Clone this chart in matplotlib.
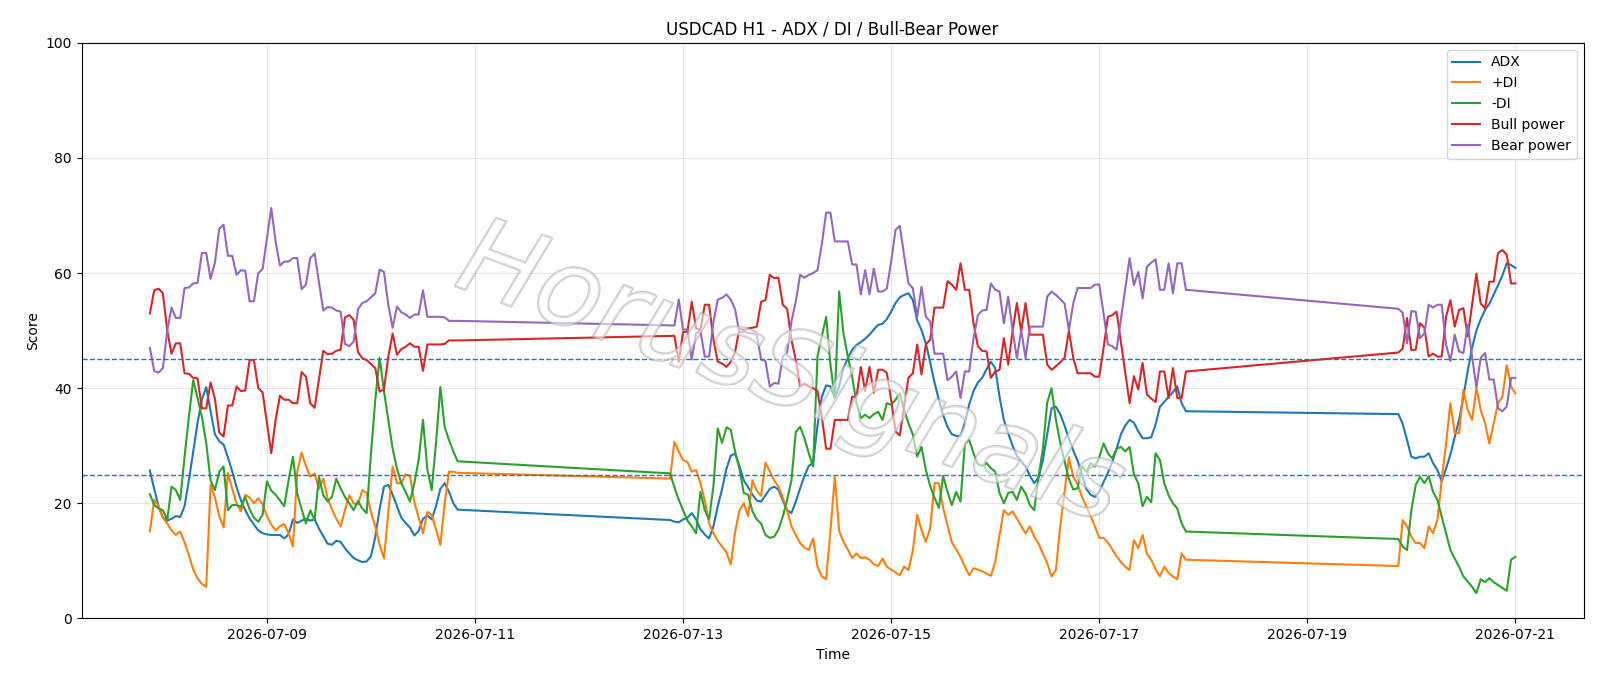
import pandas as pd
import matplotlib
matplotlib.use("Agg")
import matplotlib.pyplot as plt
import matplotlib.patheffects as pe

# H1 bars, three trading blocks (weekend gaps are simply joined by the line)
seg_bounds = [
    ("2026-07-07 21:00", "2026-07-10 20:00"),
    ("2026-07-12 21:00", "2026-07-17 20:00"),
    ("2026-07-19 21:00", "2026-07-21 00:00"),
]

adx = [
    25.7, 22.5, 19.5, 17.5, 17.0, 17.3, 17.8, 17.6, 19.5, 24.0, 29.0, 34.0, 38.0, 40.2, 36.0, 32.0, 30.8, 30.2, 28.0, 25.5, 22.8, 20.5, 18.8, 17.4,
    16.3, 15.3, 14.8, 14.6, 14.5, 14.5, 14.5, 13.9, 14.6, 17.2, 16.6, 17.0, 17.3, 17.0, 17.2, 15.6, 14.3, 13.0, 12.8, 13.5, 13.3, 12.2, 11.3, 10.5,
    10.1, 9.8, 9.9, 10.8, 14.2, 19.0, 22.9, 23.2, 21.5, 19.5, 17.5, 16.6, 15.8, 14.4, 15.2, 17.3, 17.9, 17.2, 19.5, 22.5, 23.5, 22.0, 20.0, 18.9,
    # week 2
    17.1, 16.8, 16.7, 17.2, 17.5, 18.3, 17.2, 15.5, 14.6, 13.9, 16.0, 19.5, 22.5, 26.0, 28.3, 28.6, 26.5, 24.0, 22.8, 21.5, 20.5, 20.3, 21.4, 22.5,
    22.9, 22.4, 20.5, 18.8, 18.3, 20.3, 22.6, 24.8, 26.5, 27.0, 33.5, 38.5, 40.5, 40.3, 38.3, 40.3, 43.5, 45.2, 46.7, 47.5, 48.0, 48.6, 49.3, 50.2,
    51.0, 51.2, 52.0, 53.3, 54.8, 55.8, 56.2, 56.5, 55.3, 51.8, 50.1, 47.8, 44.5, 41.0, 38.0, 35.3, 33.3, 32.0, 31.7, 31.7, 34.0, 37.2, 39.5, 41.0,
    41.8, 43.3, 44.6, 43.5, 38.5, 34.5, 32.2, 30.0, 28.3, 27.3, 26.4, 24.8, 23.5, 24.5, 27.5, 32.0, 36.5, 36.8, 35.5, 33.5, 31.2, 29.2, 27.4, 25.0,
    22.5, 21.5, 21.1, 22.0, 23.7, 25.3, 27.2, 29.5, 32.0, 33.5, 34.5, 34.0, 32.5, 31.3, 31.3, 31.5, 33.7, 36.8, 37.6, 38.5, 39.3, 40.3, 37.4, 36.0,
    # week 3
    35.5, 33.8, 31.0, 28.1, 27.8, 28.1, 28.1, 28.7, 27.0, 25.8, 23.8, 26.0, 28.5, 31.5,
    34.5, 38.5, 43.0, 47.0, 50.0, 52.0, 53.6, 54.7, 56.3, 57.9, 59.6, 61.7, 61.4, 60.9,
]

plus_di = [
    15.1, 20.6, 19.5, 17.5, 16.5, 15.3, 14.5, 15.1, 13.2, 11.0, 8.5, 7.0, 6.0, 5.5, 23.2, 21.0, 17.8, 15.8, 25.3, 22.5, 20.0, 18.6, 21.5, 21.0,
    20.0, 20.9, 19.8, 17.8, 16.3, 15.3, 16.0, 16.4, 14.8, 12.5, 25.5, 28.8, 26.5, 24.6, 25.2, 22.5, 24.3, 20.8, 19.0, 17.3, 16.0, 18.8, 21.4, 20.0,
    19.8, 22.3, 21.8, 18.5, 16.0, 12.8, 10.4, 18.5, 26.4, 23.5, 23.5, 25.0, 24.8, 20.3, 17.5, 14.8, 18.5, 18.0, 15.5, 12.8, 20.0, 25.5, 25.5, 25.3,
    # week 2
    24.3, 30.7, 29.0, 27.5, 27.2, 25.5, 25.8, 23.5, 20.5, 16.5, 14.8, 13.5, 12.5, 11.5, 9.4, 15.0, 18.8, 20.0, 17.8, 24.0, 22.2, 21.3, 27.1, 25.6,
    24.0, 22.9, 21.0, 18.8, 16.0, 14.5, 13.1, 12.3, 11.9, 13.9, 9.0, 7.3, 6.8, 15.3, 24.6, 15.2, 13.3, 12.0, 10.5, 11.3, 10.5, 10.6, 10.2, 9.4,
    9.1, 10.4, 9.0, 8.5, 8.0, 7.5, 9.0, 8.4, 11.8, 18.0, 15.4, 13.3, 15.7, 23.5, 23.5, 19.2, 16.2, 13.2, 12.0, 10.7, 9.0, 7.5, 8.7, 8.5,
    8.2, 7.8, 7.4, 9.8, 14.5, 18.8, 18.0, 18.6, 17.4, 16.0, 14.8, 16.0, 14.2, 13.0, 11.3, 9.6, 7.3, 8.4, 16.0, 22.0, 28.0, 24.6, 23.3, 21.2,
    19.5, 17.8, 16.0, 14.0, 14.0, 13.2, 12.0, 10.8, 9.8, 9.0, 8.4, 13.6, 12.2, 14.5, 11.3, 10.2, 8.5, 7.3, 9.0, 7.9, 7.3, 6.8, 11.3, 10.2,
    # week 3
    9.1, 17.1, 16.0, 14.2, 13.1, 13.1, 12.2, 16.0, 14.8, 17.1, 24.0, 30.4, 37.4, 32.2,
    32.2, 39.7, 36.2, 34.5, 40.0, 36.2, 33.9, 30.4, 33.9, 37.4, 38.5, 44.0, 40.3, 39.1,
]

minus_di = [
    21.6, 19.7, 19.1, 18.8, 17.1, 22.9, 22.3, 20.6, 28.1, 35.0, 41.4, 38.3, 35.0, 30.4, 24.0, 22.3, 25.5, 26.4, 18.8, 19.7, 19.7, 19.4, 21.1, 19.0,
    17.5, 16.8, 18.0, 23.8, 22.2, 21.5, 20.5, 19.5, 24.0, 28.1, 21.7, 19.0, 16.5, 18.8, 17.1, 24.6, 21.4, 20.3, 21.1, 24.3, 22.6, 21.1, 20.0, 18.8,
    20.4, 19.1, 18.3, 28.6, 38.0, 45.3, 39.5, 34.5, 29.5, 26.0, 23.5, 22.0, 20.3, 23.5, 27.5, 34.5, 26.0, 22.3, 30.4, 40.2, 33.3, 31.0, 29.0, 27.3,
    # week 2
    25.2, 22.8, 20.6, 18.8, 17.0, 16.0, 14.8, 22.0, 18.8, 17.2, 23.0, 33.0, 30.5, 33.2, 32.8, 29.0, 26.0, 21.8, 21.5, 18.6, 17.2, 16.5, 14.5, 14.0,
    14.2, 15.4, 17.7, 20.6, 24.0, 32.4, 33.3, 31.3, 28.7, 26.4, 45.5, 49.0, 52.4, 44.0, 38.3, 56.8, 49.5, 45.5, 42.0, 37.4, 34.8, 35.4, 34.8, 35.5,
    35.9, 34.5, 37.4, 37.1, 38.0, 39.1, 36.2, 33.9, 32.0, 28.1, 29.8, 25.8, 23.0, 21.0, 19.2, 24.8, 22.0, 19.7, 22.0, 20.3, 30.4, 31.0, 28.7, 26.8,
    26.5, 27.0, 26.1, 25.5, 21.8, 20.0, 21.8, 22.0, 20.6, 22.9, 21.7, 19.7, 18.8, 24.6, 29.5, 37.5, 40.0, 34.5, 30.5, 27.3, 24.2, 22.4, 22.6, 26.5,
    25.5, 27.0, 26.4, 28.0, 30.4, 28.7, 27.8, 29.5, 29.8, 29.0, 29.8, 25.0, 23.5, 19.5, 21.1, 20.2, 28.7, 27.5, 23.5, 21.4, 20.0, 19.1, 16.5, 15.1,
    # week 3
    13.8, 12.5, 11.9, 18.8, 23.2, 24.6, 23.5, 24.7, 22.0, 20.6, 17.7, 14.8, 11.9, 10.4,
    9.0, 7.3, 6.4, 5.5, 4.4, 6.8, 6.3, 7.0, 6.3, 5.8, 5.3, 4.8, 10.2, 10.7,
]

bull_power = [
    53.0, 57.0, 57.3, 56.5, 50.0, 46.0, 47.8, 47.8, 42.6, 42.5, 41.8, 41.7, 36.5, 36.5, 41.0, 38.2, 32.3, 31.6, 37.0, 37.0, 40.3, 39.5, 39.6, 44.9,
    44.9, 40.0, 39.3, 34.0, 28.7, 34.5, 38.7, 38.0, 38.0, 37.4, 37.4, 42.8, 42.0, 37.4, 36.6, 41.5, 46.5, 45.9, 46.0, 46.5, 46.7, 52.3, 52.7, 51.9,
    46.3, 45.2, 44.9, 44.2, 43.5, 39.4, 39.8, 45.5, 49.5, 45.8, 46.8, 47.2, 47.8, 47.2, 47.2, 43.0, 47.6, 47.6, 47.6, 47.6, 47.7, 48.3, 48.3, 48.3,
    # week 2
    49.1, 49.1, 44.6, 49.8, 49.8, 55.0, 50.4, 50.1, 54.5, 54.5, 48.5, 44.6, 44.3, 43.7, 44.6, 46.3, 50.4, 50.1, 50.4, 50.5, 50.7, 55.0, 55.3, 59.7,
    59.1, 59.2, 54.5, 53.8, 48.4, 44.9, 40.3, 40.8, 40.3, 40.0, 39.5, 35.0, 29.5, 29.5, 34.5, 34.5, 34.5, 34.5, 38.5, 38.5, 43.7, 39.5, 43.7, 39.2,
    43.2, 43.2, 42.7, 38.0, 32.5, 31.8, 37.0, 41.8, 42.6, 47.6, 42.4, 47.6, 48.4, 54.0, 54.0, 54.0, 58.6, 58.0, 57.1, 61.7, 57.1, 57.1, 51.3, 47.3,
    46.5, 46.4, 41.8, 42.9, 43.2, 48.7, 44.1, 49.9, 54.8, 49.9, 54.8, 49.3, 49.3, 49.3, 49.3, 44.1, 43.2, 43.8, 44.5, 45.3, 49.9, 45.3, 42.6, 42.6,
    42.6, 42.6, 42.0, 42.0, 47.0, 52.4, 52.7, 53.3, 48.0, 42.7, 37.4, 42.1, 39.8, 44.4, 38.9, 38.2, 37.6, 42.9, 42.9, 38.3, 43.5, 38.3, 38.3, 42.9,
    # week 3
    46.2, 46.9, 52.2, 46.6, 46.7, 51.3, 50.5, 45.5, 46.0, 45.5, 45.5, 52.4, 55.3, 50.7,
    53.6, 53.9, 49.0, 54.5, 59.9, 54.7, 53.9, 58.5, 58.5, 63.5, 64.0, 63.2, 58.2, 58.2,
]

bear_power = [
    47.0, 43.0, 42.7, 43.5, 50.0, 54.0, 52.2, 52.2, 57.4, 57.5, 58.2, 58.3, 63.5, 63.5, 59.0, 61.8, 67.7, 68.4, 63.0, 63.0, 59.7, 60.5, 60.4, 55.1,
    55.1, 60.0, 60.7, 66.0, 71.3, 65.5, 61.3, 62.0, 62.0, 62.6, 62.6, 57.2, 58.0, 62.6, 63.4, 58.5, 53.5, 54.1, 54.0, 53.5, 53.3, 47.7, 47.3, 48.1,
    53.7, 54.8, 55.1, 55.8, 56.5, 60.6, 60.2, 54.5, 50.5, 54.2, 53.2, 52.8, 52.2, 52.8, 52.8, 57.0, 52.4, 52.4, 52.4, 52.4, 52.3, 51.7, 51.7, 51.7,
    # week 2
    50.9, 50.9, 55.4, 50.2, 50.2, 45.0, 49.6, 49.9, 45.5, 45.5, 51.5, 55.4, 55.7, 56.3, 55.4, 53.7, 49.6, 49.9, 49.6, 49.5, 49.3, 45.0, 44.7, 40.3,
    40.9, 40.8, 45.5, 46.2, 51.6, 55.1, 59.7, 59.2, 59.7, 60.0, 60.5, 65.0, 70.5, 70.5, 65.5, 65.5, 65.5, 65.5, 61.5, 61.5, 56.3, 60.5, 56.3, 60.8,
    56.8, 56.8, 57.3, 62.0, 67.5, 68.2, 63.0, 58.2, 57.4, 52.4, 57.6, 52.4, 51.6, 46.0, 46.0, 46.0, 41.4, 42.0, 42.9, 38.3, 42.9, 42.9, 48.7, 52.7,
    53.5, 53.6, 58.2, 57.1, 56.8, 51.3, 55.9, 50.1, 45.2, 50.1, 45.2, 50.7, 50.7, 50.7, 50.7, 55.9, 56.8, 56.2, 55.5, 54.7, 50.1, 54.7, 57.4, 57.4,
    57.4, 57.4, 58.0, 58.0, 53.0, 47.6, 47.3, 46.7, 52.0, 57.3, 62.6, 57.9, 60.2, 55.6, 61.1, 61.8, 62.4, 57.1, 57.1, 61.7, 56.5, 61.7, 61.7, 57.1,
    # week 3
    53.8, 53.1, 47.8, 53.4, 53.3, 48.7, 49.5, 54.5, 54.0, 54.5, 54.5, 47.6, 44.7, 49.3,
    46.4, 46.1, 51.0, 45.5, 40.1, 45.3, 46.1, 41.5, 41.5, 36.5, 36.0, 36.8, 41.8, 41.8,
]

labels = ["ADX", "+DI", "-DI", "Bull power", "Bear power"]


def build_index():
    # hourly timestamps of each trading block, glued together
    parts = [pd.date_range(a, b, freq="h") for a, b in seg_bounds]
    return parts[0].append(parts[1:])


def main():
    times = build_index()
    series = [adx, plus_di, minus_di, bull_power, bear_power]
    for name, s in zip(labels, series):
        if len(s) != len(times):
            raise ValueError(f"{name}: {len(s)} values, expected {len(times)}")

    fig, ax = plt.subplots(figsize=(16, 6.86), dpi=100)
    fig.subplots_adjust(left=0.051, right=0.9898, top=0.9375, bottom=0.0985)

    for name, s in zip(labels, series):
        ax.plot(times, s, label=name, linewidth=1.5)

    ax.axhline(45, color="tab:blue", linestyle="--", linewidth=1)
    ax.axhline(25, color="tab:blue", linestyle="--", linewidth=1)

    ax.set_ylim(0, 100)
    ax.set_title("USDCAD H1 - ADX / DI / Bull-Bear Power")
    ax.set_xlabel("Time")
    ax.set_ylabel("Score")
    ax.grid(True, alpha=0.3)
    ax.legend(loc="upper right")

    # watermark
    ax.text(0.472, 0.42, "HorusSignals", transform=ax.transAxes,
            fontsize=77, fontstyle="italic", fontweight="light",
            rotation=-20, ha="center", va="center",
            color=(1, 1, 1, 0.35), zorder=5,
            path_effects=[pe.withStroke(linewidth=1.8, foreground=(0.68, 0.68, 0.68, 0.6))])

    fig.savefig("out.png")


if __name__ == "__main__":
    main()
